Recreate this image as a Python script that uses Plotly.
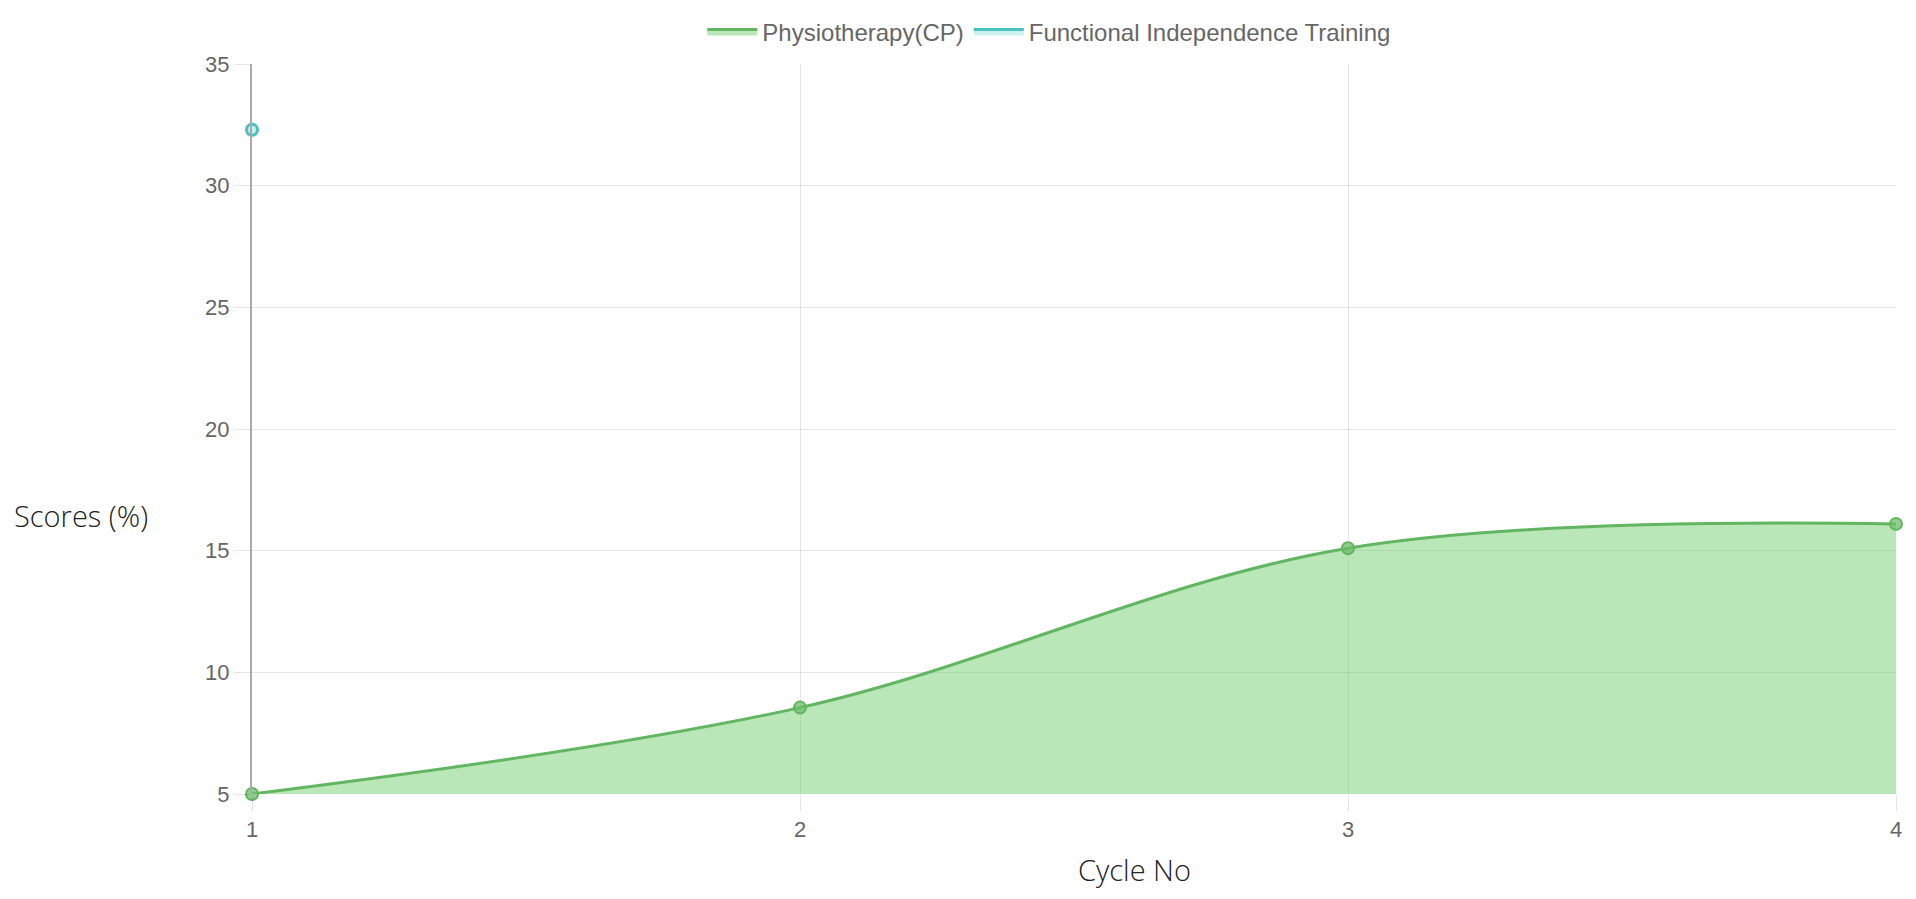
import plotly.graph_objects as go

cycles = [1, 2, 3, 4]
physio_scores = [5, 8.55, 15.1, 16.1]
fit_cycles = [1]
fit_scores = [32.3]
x_ticks = [1, 2, 3, 4]
y_ticks = [5, 10, 15, 20, 25, 30, 35]

green_line = "rgb(98,182,98)"
green_fill = "rgba(110,205,105,0.48)"
teal_line = "rgb(75,192,192)"
teal_fill = "rgba(75,210,200,0.28)"

fig = go.Figure()
fig.add_trace(go.Scatter(
    x=cycles, y=physio_scores, name="Physiotherapy(CP)",
    mode="lines", line=dict(color=green_line, width=3, shape="spline", smoothing=1.0),
    fill="tozeroy", fillcolor=green_fill, legendgroup="p",
))
fig.add_trace(go.Scatter(
    x=cycles, y=physio_scores, name="Physiotherapy(CP)", showlegend=False, legendgroup="p",
    mode="markers",
    marker=dict(size=12, color="rgba(110,190,105,0.75)", line=dict(color=green_line, width=2)),
    cliponaxis=False,
))
fig.add_trace(go.Scatter(
    x=fit_cycles, y=fit_scores, name="Functional Independence Training",
    mode="lines", fill="tozeroy", fillcolor=teal_fill,
    line=dict(color=teal_line, width=3), legendgroup="f",
))
fig.add_trace(go.Scatter(
    x=fit_cycles, y=fit_scores, name="Functional Independence Training", showlegend=False,
    legendgroup="f", mode="markers",
    marker=dict(size=11, color="rgba(200,240,236,1)", line=dict(color=teal_line, width=3)),
    cliponaxis=False,
))

grid = "rgba(0,0,0,0.1)"
fig.update_layout(
    width=1900, height=883,
    margin=dict(l=244, r=12, t=56, b=97, autoexpand=False),
    plot_bgcolor="white", paper_bgcolor="white",
    font=dict(family="Liberation Sans, Arial", size=22, color="#666"),
    legend=dict(orientation="h", x=0.485, xanchor="center", y=1.044, yanchor="middle",
                font=dict(size=24, color="#666"), itemwidth=50),
    showlegend=True,
    xaxis=dict(range=[1, 4], tickvals=x_ticks, showgrid=True, gridcolor=grid, zeroline=False,
               ticks="outside", ticklen=16, tickcolor=grid, showline=False, automargin=False,
               tickfont=dict(size=22, color="#666")),
    yaxis=dict(range=[5, 35], tickvals=y_ticks, showgrid=True, gridcolor=grid, zeroline=False,
               ticks="outside", ticklen=16, tickcolor=grid, showline=True, linecolor="rgb(170,170,170)",
               linewidth=2, automargin=False, tickfont=dict(size=22, color="#666")),
)
fig.add_annotation(text="Scores (%)", xref="paper", yref="paper", x=-0.146, y=0.382,
                   xanchor="left", yanchor="middle", showarrow=False,
                   font=dict(family="Open Sans", size=29, color="#222", weight=300))
fig.add_annotation(text="Cycle No", xref="paper", yref="paper", x=0.5365, y=-0.1328,
                   xanchor="center", yanchor="bottom", showarrow=False,
                   font=dict(family="Open Sans", size=29, color="#222", weight=300))
fig.write_html("out.html")
